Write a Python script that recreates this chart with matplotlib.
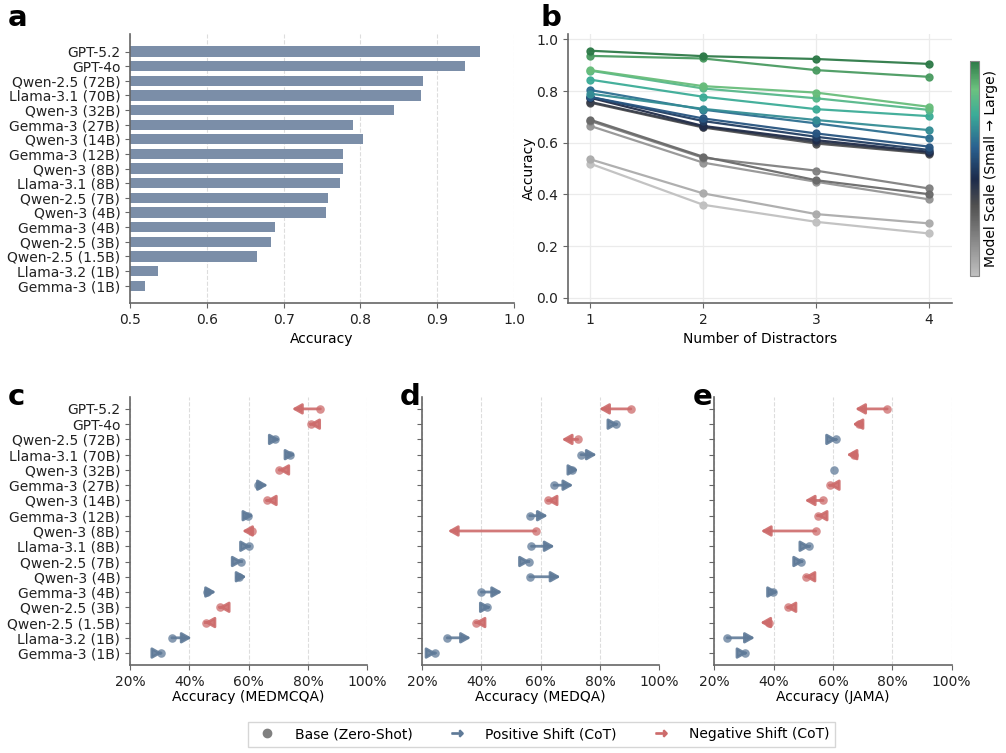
import numpy as np
import matplotlib.pyplot as plt
from matplotlib.colors import LinearSegmentedColormap, Normalize
from matplotlib.cm import ScalarMappable
from matplotlib.lines import Line2D
from matplotlib.ticker import PercentFormatter

plt.rcParams['font.family'] = ['DejaVu Sans']
plt.rcParams['font.size'] = 10

# models, top to bottom as shown
models = ["GPT-5.2", "GPT-4o", "Qwen-2.5 (72B)", "Llama-3.1 (70B)", "Qwen-3 (32B)",
          "Gemma-3 (27B)", "Qwen-3 (14B)", "Gemma-3 (12B)", "Qwen-3 (8B)",
          "Llama-3.1 (8B)", "Qwen-2.5 (7B)", "Qwen-3 (4B)", "Gemma-3 (4B)",
          "Qwen-2.5 (3B)", "Qwen-2.5 (1.5B)", "Llama-3.2 (1B)", "Gemma-3 (1B)"]

# panel a
accuracy = [0.956, 0.936, 0.881, 0.879, 0.844, 0.790, 0.804, 0.777, 0.777,
            0.774, 0.758, 0.755, 0.689, 0.684, 0.665, 0.536, 0.519]

# panel b: accuracy vs number of distractors, one row per model
distractors = [1, 2, 3, 4]
acc_distractors = [
    [0.956, 0.935, 0.924, 0.905],
    [0.936, 0.926, 0.881, 0.855],
    [0.881, 0.819, 0.794, 0.739],
    [0.879, 0.810, 0.772, 0.727],
    [0.844, 0.778, 0.730, 0.703],
    [0.790, 0.731, 0.688, 0.649],
    [0.804, 0.728, 0.675, 0.619],
    [0.777, 0.694, 0.636, 0.585],
    [0.777, 0.684, 0.623, 0.572],
    [0.774, 0.665, 0.610, 0.565],
    [0.758, 0.662, 0.603, 0.561],
    [0.755, 0.659, 0.597, 0.558],
    [0.689, 0.546, 0.455, 0.401],
    [0.684, 0.542, 0.492, 0.423],
    [0.665, 0.523, 0.449, 0.381],
    [0.536, 0.404, 0.324, 0.288],
    [0.519, 0.360, 0.294, 0.249],
]
# size rank (0 = smallest)
size_rank = [16, 15, 14, 13, 12, 11, 10, 9, 8, 7, 6, 5, 4, 3, 2, 1, 0]

# panels c-e: zero-shot vs CoT accuracy (%)
medmcqa_base = [84.2, 80.9, 68.8, 73.9, 70.4, 63.2, 66.2, 59.9, 61.1, 60.2, 57.5, 56.8, 45.8, 50.3, 45.5, 34.1, 30.3]
medmcqa_cot = [74.6, 80.4, 70.5, 75.8, 70.0, 66.5, 65.8, 61.6, 57.8, 60.8, 58.0, 59.3, 49.0, 49.9, 45.1, 40.8, 30.9]
medqa_base = [90.4, 85.4, 72.5, 73.6, 70.6, 64.5, 62.5, 56.3, 58.3, 56.9, 55.9, 56.3, 40.0, 42.0, 38.2, 28.5, 24.3]
medqa_cot = [79.7, 86.2, 67.1, 78.9, 72.7, 71.0, 62.0, 62.4, 28.7, 64.7, 56.4, 66.7, 47.0, 43.2, 37.7, 36.5, 24.9]
jama_base = [78.3, 68.8, 61.0, 67.0, 60.5, 59.0, 56.7, 55.0, 54.2, 52.0, 49.3, 51.0, 39.8, 45.0, 38.5, 24.4, 30.3]
jama_cot = [67.5, 66.6, 61.4, 64.6, 60.5, 58.6, 50.5, 54.5, 35.7, 52.4, 50.3, 50.4, 41.5, 44.0, 35.5, 33.7, 31.2]

bar_color = '#7b8ea8'
pos_color = '#5f7a98'
neg_color = '#cd6b6b'
spine_color = '#666666'
grid_color = '#dddddd'

cmap = LinearSegmentedColormap.from_list('scale', [
    (0.0, '#c0c0c0'), (0.33, '#4f4f4f'), (0.45, '#1c2a4a'), (0.6, '#2a6190'),
    (0.75, '#3bab98'), (0.87, '#6cc27f'), (1.0, '#2e7a48')])


def style_axes(ax):
    for s in ['top', 'right']:
        ax.spines[s].set_visible(False)
    for s in ['left', 'bottom']:
        ax.spines[s].set_color(spine_color)
        ax.spines[s].set_linewidth(1.2)
    ax.tick_params(colors=spine_color, labelcolor='#222222', labelsize=10)


fig = plt.figure(figsize=(10.06, 7.53), dpi=100)

# ---- panel a ----
ax_a = fig.add_axes([0.1292, 0.5976, 0.3817, 0.357])
y = np.arange(len(models))
ax_a.barh(y, accuracy, height=0.7, color=bar_color)
ax_a.set_yticks(y)
ax_a.set_yticklabels(models)
ax_a.invert_yaxis()
ax_a.set_xlim(0.5, 1.0)
ax_a.set_xlabel('Accuracy', fontsize=10)
ax_a.grid(axis='x', linestyle='--', color=grid_color, linewidth=0.8)
ax_a.set_axisbelow(True)
style_axes(ax_a)

# ---- panel b ----
ax_b = fig.add_axes([0.5643, 0.5976, 0.3817, 0.357])
norm = Normalize(0, 16)
order = np.argsort(size_rank)
for i in order:
    c = cmap(norm(size_rank[i]))
    ax_b.plot(distractors, acc_distractors[i], color=c, lw=1.6, marker='o',
              markersize=5, alpha=0.95)
ax_b.set_xlim(0.8, 4.2)
ax_b.set_ylim(-0.02, 1.02)
ax_b.set_xticks(distractors)
ax_b.set_yticks([0.0, 0.2, 0.4, 0.6, 0.8, 1.0])
ax_b.set_xlabel('Number of Distractors', fontsize=10)
ax_b.set_ylabel('Accuracy', fontsize=10, labelpad=0)
ax_b.grid(True, color='#ebebeb', linewidth=0.9)
ax_b.set_axisbelow(True)
style_axes(ax_b)

cax = fig.add_axes([0.9642, 0.6335, 0.0085, 0.2855])
sm = ScalarMappable(norm=Normalize(0, 1), cmap=cmap)
cb = fig.colorbar(sm, cax=cax)
cb.set_ticks([])
cb.outline.set_edgecolor('#888888')
cb.set_label('Model Scale (Small → Large)', fontsize=10)

# ---- panels c-e ----
panels = [('MEDMCQA', medmcqa_base, medmcqa_cot, 0.1292),
          ('MEDQA', medqa_base, medqa_cot, 0.4195),
          ('JAMA', jama_base, jama_cot, 0.7100)]
for k, (name, base, cot, left) in enumerate(panels):
    ax = fig.add_axes([left, 0.1165, 0.2359, 0.3567])
    for i in range(len(models)):
        c = pos_color if cot[i] >= base[i] else neg_color
        if cot[i] != base[i]:
            ax.annotate('', xy=(cot[i], i), xytext=(base[i], i),
                        arrowprops=dict(arrowstyle='-|>,head_length=0.5,head_width=0.28',
                                        color=c, lw=2.0, mutation_scale=11,
                                        shrinkA=0, shrinkB=0, alpha=0.9),
                        zorder=2)
        ax.scatter(base[i], i, s=38, color=c, alpha=0.75, zorder=3, linewidths=0)
    ax.set_xlim(20, 100)
    ax.set_ylim(len(models) - 0.2, -0.8)
    ax.set_xticks([20, 40, 60, 80, 100])
    ax.xaxis.set_major_formatter(PercentFormatter(100, decimals=0))
    ax.set_yticks(np.arange(len(models)))
    if k == 0:
        ax.set_yticklabels(models)
    else:
        ax.set_yticklabels([])
    ax.set_xlabel(f'Accuracy ({name})', fontsize=10, labelpad=1)
    ax.grid(axis='x', linestyle='--', color=grid_color, linewidth=0.8)
    ax.set_axisbelow(True)
    style_axes(ax)

# panel letters
for letter, (x, yy) in zip('abcde', [(0.008, 0.976), (0.537, 0.976), (0.008, 0.473),
                                     (0.397, 0.473), (0.689, 0.473)]):
    fig.text(x, yy, letter, fontsize=21, fontweight='bold', va='center')

handles = [Line2D([], [], color='#808080', marker='o', linestyle='None', markersize=6),
           Line2D([], [], color=pos_color, marker=r'$\rightarrow$', linestyle='None', markersize=8),
           Line2D([], [], color=neg_color, marker=r'$\rightarrow$', linestyle='None', markersize=8)]
fig.legend(handles, ['Base (Zero-Shot)', 'Positive Shift (CoT)', 'Negative Shift (CoT)'],
           loc='center', bbox_to_anchor=(0.538, 0.025), ncol=3, fontsize=10,
           columnspacing=2.2, handletextpad=1.0, frameon=True, edgecolor='#cccccc',
           fancybox=False)

fig.savefig('out.png', dpi=100)
